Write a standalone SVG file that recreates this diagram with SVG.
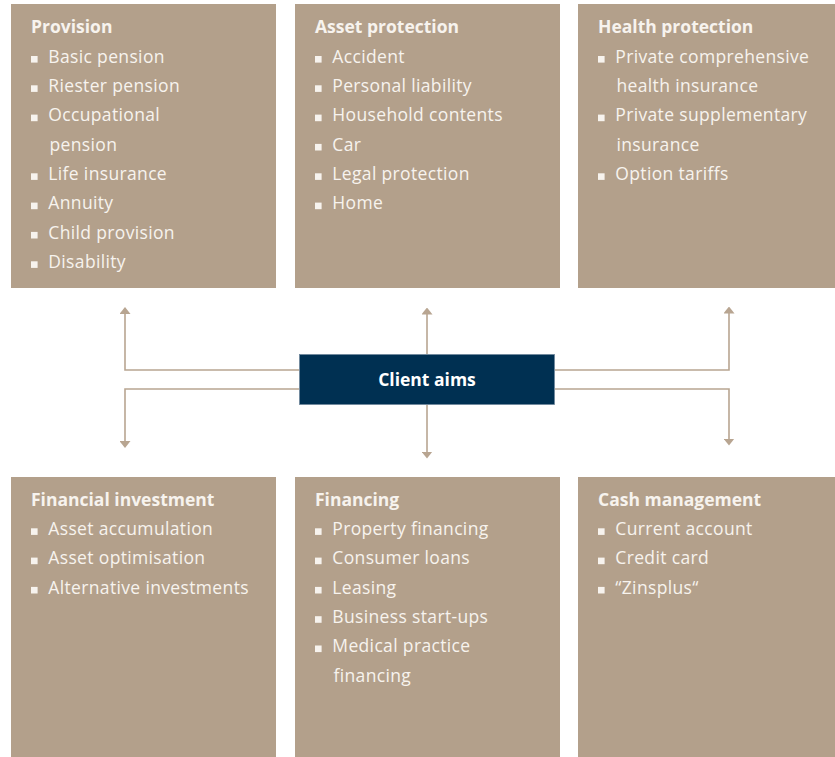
<svg xmlns="http://www.w3.org/2000/svg" width="835" height="757" viewBox="0 0 835 757">
<style>
.box{fill:#b3a08b}
.t{font-family:"Open Sans","Liberation Sans",sans-serif;font-size:17.5px;fill:#f7f3ee;letter-spacing:0.35px}
.h{font-weight:bold;letter-spacing:0}
.b{fill:#f7f3ee}
.c{fill:none;stroke:#b8a591;stroke-width:1.6}
.ctr{fill:#003052;stroke:#6f879c;stroke-width:0.8}
.ct{font-family:"Open Sans","Liberation Sans",sans-serif;font-size:17.5px;font-weight:bold;fill:#ffffff}
</style>
<defs>
<marker id="ah" markerUnits="userSpaceOnUse" viewBox="0 0 7 11" refX="0.5" refY="5.5" markerWidth="7" markerHeight="11" orient="auto">
<path d="M0,0 L7,5.5 L0,11 z" fill="#b8a591"/>
</marker>
</defs>
<rect width="835" height="757" fill="#ffffff"/>
<g id="connectors">
<path class="c" d="M299,370 H125 V313.5" marker-end="url(#ah)"/>
<path class="c" d="M299,389 H125 V441.5" marker-end="url(#ah)"/>
<path class="c" d="M427,354 V314" marker-end="url(#ah)"/>
<path class="c" d="M427,405 V452" marker-end="url(#ah)"/>
<path class="c" d="M555,370 H729 V313" marker-end="url(#ah)"/>
<path class="c" d="M555,389 H729 V439" marker-end="url(#ah)"/>
</g>
<g id="provision">
<rect class="box" x="11" y="4" width="265" height="284"/>
<text class="t h" x="31" y="33.3">Provision</text>
<rect class="b" x="31" y="56" width="6.6" height="6.6"/><text class="t" x="48.3" y="62.7">Basic pension</text>
<rect class="b" x="31" y="85.3" width="6.6" height="6.6"/><text class="t" x="48.3" y="92">Riester pension</text>
<rect class="b" x="31" y="114.6" width="6.6" height="6.6"/><text class="t" x="48.3" y="121.3">Occupational</text>
<text class="t" x="49.5" y="150.6">pension</text>
<rect class="b" x="31" y="173.3" width="6.6" height="6.6"/><text class="t" x="48.3" y="180">Life insurance</text>
<rect class="b" x="31" y="202.6" width="6.6" height="6.6"/><text class="t" x="48.3" y="209.3">Annuity</text>
<rect class="b" x="31" y="231.9" width="6.6" height="6.6"/><text class="t" x="48.3" y="238.6">Child provision</text>
<rect class="b" x="31" y="261.3" width="6.6" height="6.6"/><text class="t" x="48.3" y="268">Disability</text>
</g>
<g id="asset-protection">
<rect class="box" x="295" y="4" width="265" height="284"/>
<text class="t h" x="315" y="33.3">Asset protection</text>
<rect class="b" x="315" y="56" width="6.6" height="6.6"/><text class="t" x="332.3" y="62.7">Accident</text>
<rect class="b" x="315" y="85.3" width="6.6" height="6.6"/><text class="t" x="332.3" y="92">Personal liability</text>
<rect class="b" x="315" y="114.6" width="6.6" height="6.6"/><text class="t" x="332.3" y="121.3">Household contents</text>
<rect class="b" x="315" y="143.9" width="6.6" height="6.6"/><text class="t" x="332.3" y="150.6">Car</text>
<rect class="b" x="315" y="173.3" width="6.6" height="6.6"/><text class="t" x="332.3" y="180">Legal protection</text>
<rect class="b" x="315" y="202.6" width="6.6" height="6.6"/><text class="t" x="332.3" y="209.3">Home</text>
</g>
<g id="health-protection">
<rect class="box" x="578" y="4" width="257" height="284"/>
<text class="t h" x="598" y="33.3">Health protection</text>
<rect class="b" x="598" y="56" width="6.6" height="6.6"/><text class="t" x="615.3" y="62.7">Private comprehensive</text>
<text class="t" x="616.5" y="92">health insurance</text>
<rect class="b" x="598" y="114.6" width="6.6" height="6.6"/><text class="t" x="615.3" y="121.3">Private supplementary</text>
<text class="t" x="616.5" y="150.6">insurance</text>
<rect class="b" x="598" y="173.3" width="6.6" height="6.6"/><text class="t" x="615.3" y="180">Option tariffs</text>
</g>
<g id="client-aims">
<rect class="ctr" x="299.5" y="354.5" width="255" height="50"/>
<text class="ct" x="427" y="386" text-anchor="middle">Client aims</text>
</g>
<g id="financial-investment">
<rect class="box" x="11" y="477" width="265" height="280"/>
<text class="t h" x="31" y="505.5">Financial investment</text>
<rect class="b" x="31" y="528.3" width="6.6" height="6.6"/><text class="t" x="48.3" y="535">Asset accumulation</text>
<rect class="b" x="31" y="557.6" width="6.6" height="6.6"/><text class="t" x="48.3" y="564.3">Asset optimisation</text>
<rect class="b" x="31" y="586.9" width="6.6" height="6.6"/><text class="t" x="48.3" y="593.6">Alternative investments</text>
</g>
<g id="financing">
<rect class="box" x="295" y="477" width="265" height="280"/>
<text class="t h" x="315" y="505.5">Financing</text>
<rect class="b" x="315" y="528.3" width="6.6" height="6.6"/><text class="t" x="332.3" y="535">Property financing</text>
<rect class="b" x="315" y="557.6" width="6.6" height="6.6"/><text class="t" x="332.3" y="564.3">Consumer loans</text>
<rect class="b" x="315" y="586.9" width="6.6" height="6.6"/><text class="t" x="332.3" y="593.6">Leasing</text>
<rect class="b" x="315" y="616.2" width="6.6" height="6.6"/><text class="t" x="332.3" y="622.9">Business start-ups</text>
<rect class="b" x="315" y="645.5" width="6.6" height="6.6"/><text class="t" x="332.3" y="652.2">Medical practice</text>
<text class="t" x="333.5" y="681.5">financing</text>
</g>
<g id="cash-management">
<rect class="box" x="578" y="477" width="257" height="280"/>
<text class="t h" x="598" y="505.5">Cash management</text>
<rect class="b" x="598" y="528.3" width="6.6" height="6.6"/><text class="t" x="615.3" y="535">Current account</text>
<rect class="b" x="598" y="557.6" width="6.6" height="6.6"/><text class="t" x="615.3" y="564.3">Credit card</text>
<rect class="b" x="598" y="586.9" width="6.6" height="6.6"/><text class="t" x="615.3" y="593.6">“Zinsplus“</text>
</g>
</svg>
